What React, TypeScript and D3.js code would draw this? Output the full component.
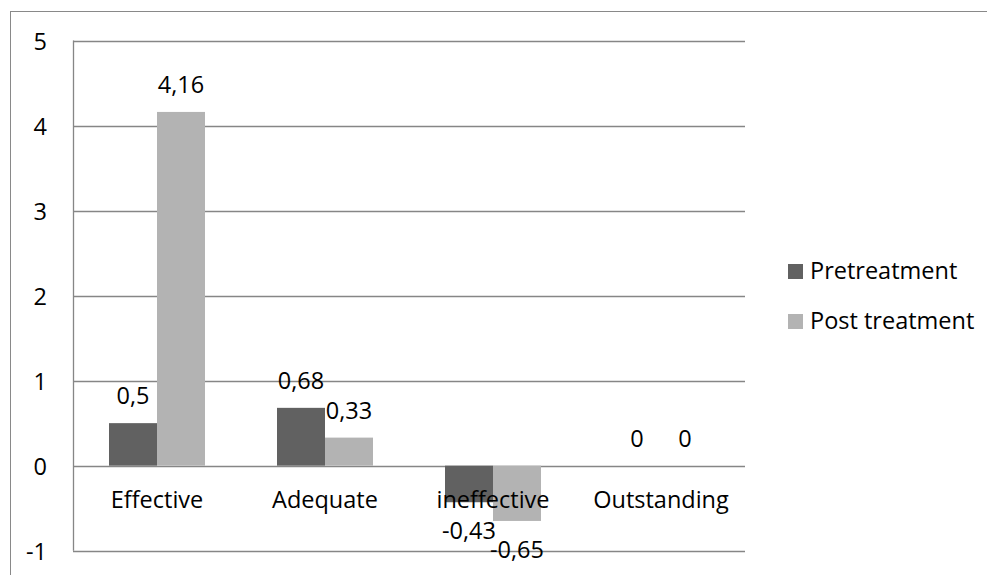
import React from "react";
import * as d3 from "d3";

const categories = ["Effective", "Adequate", "ineffective", "Outstanding"];
const pretreatment = [0.5, 0.68, -0.43, 0];
const postTreatment = [4.16, 0.33, -0.65, 0];
const yTicks = [-1, 0, 1, 2, 3, 4, 5];
const seriesNames = ["Pretreatment", "Post treatment"];
const seriesColors = ["#616161", "#b3b3b3"];

const W = 987;
const H = 575;
const plot = { left: 73, right: 745, top: 40.5, bottom: 550.7 };
const FONT = "'Open Sans', 'Noto Sans', sans-serif";
const FS = 23.5;

const fmt = (v: number) => String(v).replace(".", ",");

export default function App() {
  const x = d3.scaleBand<string>().domain(categories).range([plot.left, plot.right]).paddingInner(0).paddingOuter(0);
  const y = d3.scaleLinear().domain([-1, 5]).range([plot.bottom, plot.top]);
  const bw = x.bandwidth() / 3.5;
  const series = [pretreatment, postTreatment];
  const grid = "#868686";

  return (
    <svg width={W} height={H} style={{ position: "absolute", left: 0, top: 0, background: "#fff" }} fontFamily={FONT}>
      <rect x={10.5} y={11.5} width={1000} height={600} fill="#fff" stroke="#898989" strokeWidth={1} />
      {yTicks.map((t) => (
        <g key={t}>
          <line x1={plot.left} x2={plot.right} y1={Math.round(y(t)) + 0.5} y2={Math.round(y(t)) + 0.5} stroke={grid} strokeWidth={1.3} />
          <text x={47} y={y(t)} textAnchor="end" dominantBaseline="central" fontSize={FS} fill="#000">{t}</text>
        </g>
      ))}
      <line x1={plot.left + 0.5} x2={plot.left + 0.5} y1={y(5)} y2={y(-1)} stroke={grid} strokeWidth={1.3} />
      {categories.map((c, i) => {
        const cx = (x(c) as number) + x.bandwidth() / 2;
        return (
          <g key={c}>
            {series.map((s, si) => {
              const v = s[i];
              const bx = cx - bw + si * bw;
              const y0 = y(0);
              const yv = y(v);
              return (
                <g key={si}>
                  {v !== 0 && (
                    <rect x={bx} y={Math.min(y0, yv)} width={bw} height={Math.abs(yv - y0)} fill={seriesColors[si]} />
                  )}
                  <text
                    x={bx + bw / 2}
                    y={v >= 0 ? yv - 19 : yv + 37}
                    textAnchor="middle"
                    fontSize={FS}
                    fill="#000"
                  >
                    {fmt(v)}
                  </text>
                </g>
              );
            })}
            <text x={cx} y={508} textAnchor="middle" fontSize={FS} fill="#000">{c}</text>
          </g>
        );
      })}
      {seriesNames.map((n, i) => (
        <g key={n}>
          <rect x={788} y={264 + i * 50} width={15} height={15} fill={seriesColors[i]} />
          <text x={810} y={279 + i * 50} fontSize={FS} fill="#000">{n}</text>
        </g>
      ))}
    </svg>
  );
}
